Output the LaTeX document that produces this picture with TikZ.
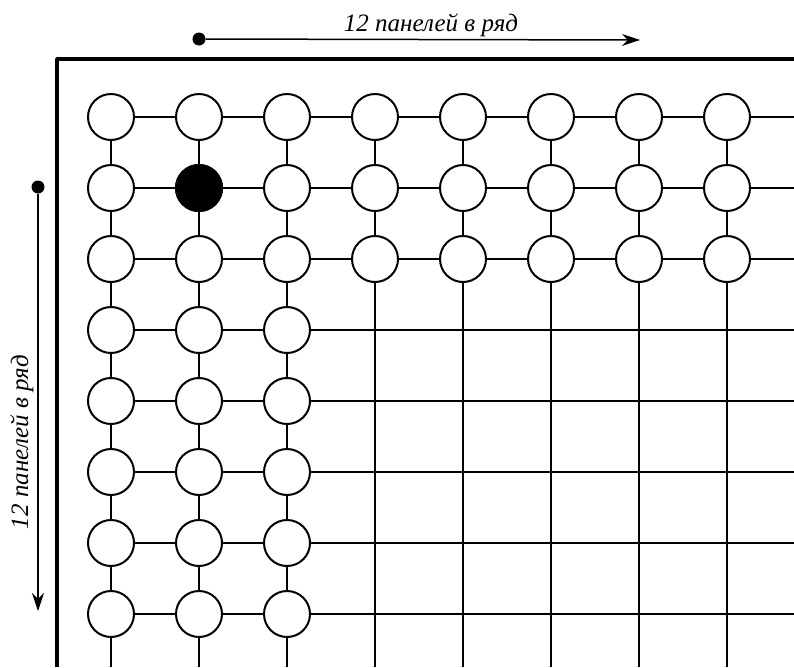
\documentclass[tikz,border=0pt]{standalone}
\usepackage{fontspec}
\setmainfont{Liberation Serif}
\usetikzlibrary{arrows.meta}
\usetikzlibrary{positioning}

\begin{document}
\begin{tikzpicture}[x=1pt,y=-1pt,line join=round,
  panel/.style={circle,draw,line width=2pt,fill=white,minimum size=46pt,inner sep=0pt},
  wire/.style={line width=2pt},
  pin/.style={circle,fill=black,inner sep=0pt,minimum size=13pt},
  pointer/.style={line width=1.5pt,-{Stealth[length=18pt,width=12pt]}},
  count/.style={font=\itshape\fontsize{25}{30}\selectfont,inner sep=0pt,anchor=base}]
\useasboundingbox (0,0) rectangle (794,667);
\fill[white] (0,0) rectangle (794,667);
% --- grid points, panels on the first three rows and columns
\foreach \r in {0,...,7} \foreach \c in {0,...,7} \coordinate (p-\r-\c) at ({111+88*\c},{117+71*\r});
\foreach \r in {0,...,2} \foreach \c in {0,...,7} \node[panel] (p-\r-\c) at (p-\r-\c) {};
\foreach \r in {3,...,7} \foreach \c in {0,...,2} \node[panel] (p-\r-\c) at (p-\r-\c) {};
\node[panel,fill=black] (p-1-1) at (p-1-1) {};
% free ends at the page edges
\foreach \r in {0,...,7} \coordinate (e-\r) at (794,{117+71*\r});
\foreach \c in {0,...,7} \coordinate (s-\c) at ({111+88*\c},667);
% --- wires
\foreach \r in {0,...,7} {\foreach \c in {0,...,6} {\pgfmathtruncatemacro\n{\c+1} \draw[wire] (p-\r-\c) -- (p-\r-\n);} \draw[wire] (p-\r-7) -- (e-\r);}
\foreach \c in {0,...,7} {\foreach \r in {0,...,6} {\pgfmathtruncatemacro\n{\r+1} \draw[wire] (p-\r-\c) -- (p-\n-\c);} \draw[wire] (p-7-\c) -- (s-\c);}
% --- frame
\coordinate (f-bl) at (57,667); \coordinate (f-tl) at (57,59); \coordinate (f-tr) at (794,59);
\draw[line width=3.6pt] (f-bl) -- (f-tl) -- (f-tr);
% --- row count arrows
\node[pin] (top-pin) at (199,39) {}; \coordinate (top-tip) at (640,40);
\draw[pointer] (top-pin) -- (top-tip);
\node[count] (top-text) at (431,31) {12 панелей в ряд};
\node[pin] (left-pin) at (38,187) {}; \coordinate (left-tip) at (38,611);
\draw[pointer] (left-pin) -- (left-tip);
\node[count,rotate=90] (left-text) at (28,442) {12 панелей в ряд};
\end{tikzpicture}
\end{document}
